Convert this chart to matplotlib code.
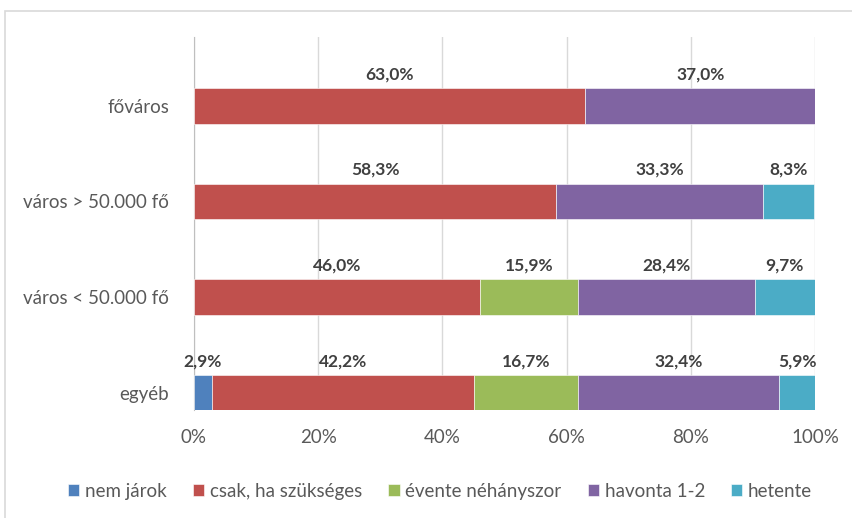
import matplotlib.pyplot as plt
from matplotlib.patches import Rectangle

plt.rcParams['font.family'] = ['Lato', 'DejaVu Sans']

categories = ["egyéb", "város < 50.000 fő", "város > 50.000 fő", "főváros"]
series_names = ["nem járok", "csak, ha szükséges", "évente néhányszor", "havonta 1-2", "hetente"]
nem_jarok = [2.9, 0.0, 0.0, 0.0]
csak = [42.2, 46.0, 58.3, 63.0]
evente = [16.7, 15.9, 0.0, 0.0]
havonta = [32.4, 28.4, 33.3, 37.0]
hetente = [5.9, 9.7, 8.3, 0.0]
colors = ["#4F81BD", "#C0504D", "#9BBB59", "#8064A2", "#4BACC6"]
xticks = [0, 20, 40, 60, 80, 100]

series = [nem_jarok, csak, evente, havonta, hetente]

fig = plt.figure(figsize=(8.53, 5.18), dpi=100)
ax = fig.add_axes([0.2274, 0.2085, 0.9555 - 0.2274, 0.9286 - 0.2085])

# light frame round the chart
fig.patches.append(Rectangle((5 / 853, -0.1), 1.1, 1 - 11 / 518 + 0.1, transform=fig.transFigure,
                             fill=False, edgecolor="#d9d9d9", linewidth=1.2))

bar_h = 0.37
ypos = list(range(len(categories)))
left = [0.0] * len(categories)
for name, vals, col in zip(series_names, series, colors):
    ax.barh(ypos, vals, left=left, height=bar_h, color=col, label=name,
            edgecolor="white", linewidth=0.4, zorder=3)
    for i, v in enumerate(vals):
        if v > 0:
            ax.text(left[i] + v / 2, i + 0.33, f"{v:.1f}%".replace(".", ","),
                    ha="center", va="center", fontsize=12.5, fontweight="bold",
                    color="#404040", zorder=4)
    left = [l + v for l, v in zip(left, vals)]

ax.set_xlim(0, 100)
ax.set_ylim(-0.18, 3.72)
ax.set_xticks(xticks)
ax.set_xticklabels([f"{t}%" for t in xticks])
ax.set_yticks(ypos)
ax.set_yticklabels(categories)
ax.tick_params(axis="both", length=0, labelsize=13.5, labelcolor="#595959")
ax.tick_params(axis="x", pad=14)
ax.tick_params(axis="y", pad=18)
ax.grid(axis="x", color="#d9d9d9", linewidth=1, zorder=0)
for s in ["top", "right", "bottom"]:
    ax.spines[s].set_visible(False)
ax.spines["left"].set_color("#bfbfbf")

fig.legend(loc="center", bbox_to_anchor=(0.516, 0.052), ncol=5, frameon=False,
           fontsize=13.5, handlelength=0.6, handleheight=0.6, handletextpad=0.3,
           columnspacing=1.4, labelcolor="#595959")

fig.savefig("out.png", dpi=100)
